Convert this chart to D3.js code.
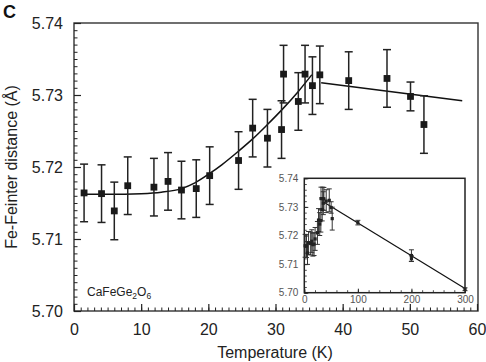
<!DOCTYPE html>
<html>
<head>
<meta charset="utf-8">
<script src="https://cdn.jsdelivr.net/npm/d3@7/dist/d3.min.js"></script>
<style>
  html, body { margin: 0; padding: 0; background: #fff; }
  svg { display: block; font-family: "Liberation Sans", Arial, sans-serif; }
</style>
</head>
<body>
<svg id="chart" width="486" height="362"></svg>
<script>
// ---- data ----
const temps = [1.5, 4.1, 6.0, 8.0, 11.9, 14.0, 16.0, 18.2, 20.2, 24.5, 26.6, 28.8, 30.9, 31.2, 33.4, 34.4, 35.5, 36.6, 40.9, 46.6, 50.1, 52.1];
const dist  = [5.7164, 5.7163, 5.7139, 5.7174, 5.7172, 5.7180, 5.7168, 5.7170, 5.7188, 5.7209, 5.7254, 5.7240, 5.7252, 5.7329, 5.7291, 5.7329, 5.7313, 5.7328, 5.7320, 5.7323, 5.7298, 5.7259];
const errs  = [0.004, 0.004, 0.004, 0.004, 0.004, 0.004, 0.004, 0.004, 0.004, 0.004, 0.004, 0.004, 0.004, 0.004, 0.004, 0.004, 0.004, 0.004, 0.004, 0.004, 0.002, 0.004];

// fitted curve below the transition
const fitT = [1.5, 5, 10, 13, 16, 18, 20.2, 22, 24.5, 26.6, 28.8, 30.9, 33.4, 35.4];
const fitD = [5.7162, 5.7162, 5.7163, 5.7165, 5.7170, 5.7178, 5.7191, 5.7203, 5.7222, 5.7239, 5.7259, 5.7279, 5.7305, 5.7328];

// linear fit above the transition
const lineT = [36.8, 57.8];
const lineD = [5.7317, 5.7292];

// inset: extra high-temperature points
const insetT   = [100, 200, 200, 300];
const insetD   = [5.7245, 5.7130, 5.7119, 5.7012];
const insetErr = [0.0008, 0.002, 0.001, 0.0005];
const insetLineT = [36.8, 300];
const insetLineD = [5.7316, 5.7015];

// tick values
const xTicks = [0, 10, 20, 30, 40, 50, 60];
const yTicks = [5.70, 5.71, 5.72, 5.73, 5.74];
const insetXTicks = [0, 100, 200, 300];
const insetYTicks = [5.70, 5.71, 5.72, 5.73, 5.74];

// ---- drawing ----
const svg = d3.select("#chart");
const ink = "#222";

const M = { left: 74, right: 478, top: 23, bottom: 311 };
const x = d3.scaleLinear().domain([0, 60]).range([M.left, 477]);
const y = d3.scaleLinear().domain([5.70, 5.74]).range([M.bottom, M.top]);

// frame
svg.append("rect")
  .attr("x", M.left).attr("y", M.top)
  .attr("width", M.right - M.left).attr("height", M.bottom - M.top)
  .attr("fill", "none").attr("stroke", "#333").attr("stroke-width", 1.4);

// minor ticks
svg.append("g").attr("transform", `translate(0,${M.bottom})`)
  .call(d3.axisBottom(x).tickValues(d3.range(0, 61, 1)).tickSizeInner(-3.5).tickSizeOuter(0).tickFormat(""))
  .call(g => g.select(".domain").remove())
  .call(g => g.selectAll("line").attr("stroke", ink).attr("stroke-width", 1));
svg.append("g").attr("transform", `translate(${M.left},0)`)
  .call(d3.axisLeft(y).tickValues(d3.range(0, 41).map(i => 5.70 + i * 0.001)).tickSizeInner(-3.5).tickSizeOuter(0).tickFormat(""))
  .call(g => g.select(".domain").remove())
  .call(g => g.selectAll("line").attr("stroke", ink).attr("stroke-width", 1));

// major ticks + labels
svg.append("g").attr("transform", `translate(0,${M.bottom})`)
  .call(d3.axisBottom(x).tickValues(xTicks).tickSizeInner(-7).tickSizeOuter(0).tickPadding(12.5).tickFormat(d3.format("d")))
  .call(g => g.select(".domain").remove())
  .call(g => g.selectAll("line").attr("stroke", ink).attr("stroke-width", 1.2))
  .call(g => g.selectAll("text").attr("fill", "#222").style("font-size", "16px").style("font-family", "Liberation Sans, Arial, sans-serif"));
svg.append("g").attr("transform", `translate(${M.left},0)`)
  .call(d3.axisLeft(y).tickValues(yTicks).tickSizeInner(-7).tickSizeOuter(0).tickPadding(11).tickFormat(d3.format(".2f")))
  .call(g => g.select(".domain").remove())
  .call(g => g.selectAll("line").attr("stroke", ink).attr("stroke-width", 1.2))
  .call(g => g.selectAll("text").attr("fill", "#222").style("font-size", "16px").style("font-family", "Liberation Sans, Arial, sans-serif"));

// axis titles
svg.append("text").attr("x", 275).attr("y", 358).attr("text-anchor", "middle")
  .attr("fill", "#222").style("font-size", "16px").text("Temperature (K)");
svg.append("text").attr("transform", "translate(17,167) rotate(-90)").attr("text-anchor", "middle")
  .attr("fill", "#222").style("font-size", "16px").text("Fe-Feinter distance (Å)");

// panel letter
svg.append("text").attr("x", 3).attr("y", 18).attr("fill", "#111")
  .style("font-size", "18px").style("font-weight", "bold").text("C");

// compound label
const comp = svg.append("text").attr("x", 87).attr("y", 296).attr("fill", "#222").style("font-size", "12px");
comp.append("tspan").text("CaFeGe");
comp.append("tspan").attr("dy", 3).style("font-size", "8.5px").text("2");
comp.append("tspan").attr("dy", -3).text("O");
comp.append("tspan").attr("dy", 3).style("font-size", "8.5px").text("6");

// fit curves
const pts = temps.map((t, i) => ({ t, d: dist[i], e: errs[i] }));
const lineGen = d3.line().x(d => x(d[0])).y(d => y(d[1]));
svg.append("path").datum(fitT.map((t, i) => [t, fitD[i]]))
  .attr("d", lineGen.curve(d3.curveMonotoneX))
  .attr("fill", "none").attr("stroke", "#111").attr("stroke-width", 1.5);
svg.append("path").datum(lineT.map((t, i) => [t, lineD[i]]))
  .attr("d", d3.line().x(d => x(d[0])).y(d => y(d[1])))
  .attr("fill", "none").attr("stroke", "#111").attr("stroke-width", 1.5);

// error bars
const eb = svg.append("g").attr("stroke", ink).attr("stroke-width", 1.5);
pts.forEach(p => {
  const cx = x(p.t);
  eb.append("line").attr("x1", cx).attr("x2", cx).attr("y1", y(p.d - p.e)).attr("y2", y(p.d + p.e));
  eb.append("line").attr("x1", cx - 4).attr("x2", cx + 4).attr("y1", y(p.d + p.e)).attr("y2", y(p.d + p.e));
  eb.append("line").attr("x1", cx - 4).attr("x2", cx + 4).attr("y1", y(p.d - p.e)).attr("y2", y(p.d - p.e));
});
svg.append("g").selectAll("rect").data(pts).join("rect")
  .attr("x", d => x(d.t) - 3.4).attr("y", d => y(d.d) - 3.4)
  .attr("width", 6.8).attr("height", 6.8).attr("fill", "#1a1a1a");

// ---- inset ----
const I = { left: 304.3, right: 465, top: 178.3, bottom: 292.7 };
const ix = d3.scaleLinear().domain([0, 300]).range([I.left, I.right]);
const iy = d3.scaleLinear().domain([5.70, 5.74]).range([I.bottom, I.top]);
const ins = svg.append("g");
ins.append("rect").attr("x", I.left).attr("y", I.top)
  .attr("width", I.right - I.left).attr("height", I.bottom - I.top)
  .attr("fill", "#fff").attr("stroke", "#222").attr("stroke-width", 1.5);

ins.append("g").attr("transform", `translate(0,${I.bottom})`)
  .call(d3.axisBottom(ix).tickValues(d3.range(0, 301, 20)).tickSizeInner(-2.5).tickSizeOuter(0).tickFormat(""))
  .call(g => g.select(".domain").remove())
  .call(g => g.selectAll("line").attr("stroke", ink).attr("stroke-width", 0.8));
ins.append("g").attr("transform", `translate(${I.left},0)`)
  .call(d3.axisLeft(iy).tickValues(d3.range(0, 21).map(i => 5.70 + i * 0.002)).tickSizeInner(-2.5).tickSizeOuter(0).tickFormat(""))
  .call(g => g.select(".domain").remove())
  .call(g => g.selectAll("line").attr("stroke", ink).attr("stroke-width", 0.8));
ins.append("g").attr("transform", `translate(0,${I.bottom})`)
  .call(d3.axisBottom(ix).tickValues(insetXTicks).tickSizeInner(-4).tickSizeOuter(0).tickPadding(3.5).tickFormat(d3.format("d")))
  .call(g => g.select(".domain").remove())
  .call(g => g.selectAll("line").attr("stroke", ink))
  .call(g => g.selectAll("text").attr("fill", "#555").style("font-size", "10px").style("font-family", "Liberation Sans, Arial, sans-serif"));
ins.append("g").attr("transform", `translate(${I.left},0)`)
  .call(d3.axisLeft(iy).tickValues(insetYTicks).tickSizeInner(-4).tickSizeOuter(0).tickPadding(6).tickFormat(d3.format(".2f")))
  .call(g => g.select(".domain").remove())
  .call(g => g.selectAll("line").attr("stroke", ink))
  .call(g => g.selectAll("text").attr("fill", "#555").style("font-size", "10px").style("font-family", "Liberation Sans, Arial, sans-serif"));

ins.append("path").datum(insetLineT.map((t, i) => [t, insetLineD[i]]))
  .attr("d", d3.line().x(d => ix(d[0])).y(d => iy(d[1])))
  .attr("fill", "none").attr("stroke", "#111").attr("stroke-width", 1.2);

const allInset = pts.concat(insetT.map((t, i) => ({ t, d: insetD[i], e: insetErr[i] })));
const ieb = ins.append("g").attr("stroke", "#333").attr("stroke-width", 1);
allInset.forEach(p => {
  const cx = ix(p.t);
  ieb.append("line").attr("x1", cx).attr("x2", cx).attr("y1", iy(p.d - p.e)).attr("y2", iy(p.d + p.e));
  ieb.append("line").attr("x1", cx - 2.5).attr("x2", cx + 2.5).attr("y1", iy(p.d + p.e)).attr("y2", iy(p.d + p.e));
  ieb.append("line").attr("x1", cx - 2.5).attr("x2", cx + 2.5).attr("y1", iy(p.d - p.e)).attr("y2", iy(p.d - p.e));
});
ins.append("g").selectAll("rect").data(allInset).join("rect")
  .attr("x", d => ix(d.t) - 1.6).attr("y", d => iy(d.d) - 1.6)
  .attr("width", 3.2).attr("height", 3.2).attr("fill", "#222");
</script>
</body>
</html>
